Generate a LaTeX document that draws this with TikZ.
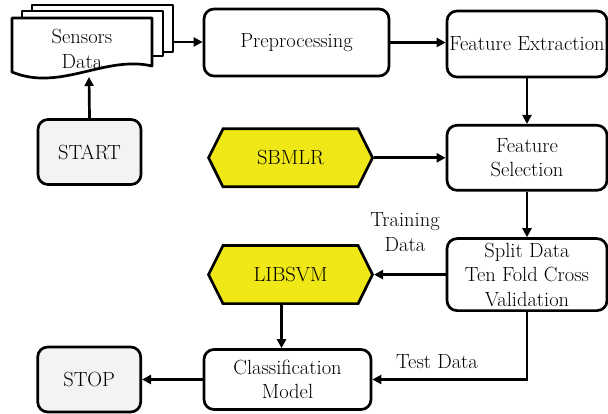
\documentclass[tikz,border=0pt]{standalone}
\usepackage{fontspec}
\usepackage{tikz}
\usetikzlibrary{positioning, shapes.geometric, shapes.symbols, arrows.meta}
\definecolor{hexyellow}{RGB}{240,232,22}
\definecolor{termgray}{RGB}{242,243,245}
\tikzstyle{arrow} = [line width=2.7pt,-{Triangle[length=9pt,width=9pt]}]
\tikzstyle{page} = [draw=black, line width=2.7pt, fill=white, line join=round]

\begin{document}
\begin{tikzpicture}[x=1pt, y=1pt,
font=\fontsize{20.5}{24.5}\selectfont,
boxnode/.style={rectangle, draw=black, line width=2.7pt, rounded corners=10pt, align=center, inner sep=0pt},
termnode/.style={boxnode, fill=termgray, minimum width=103pt, minimum height=65pt},
hexnode/.style={signal, signal to=west and east, signal pointer angle=127, draw=black, line width=2.7pt, fill=hexyellow, minimum width=164pt, minimum height=58pt}
]
\useasboundingbox (0,0) rectangle (608,-414);
% sensor pages
\draw[page] (32,-5) rectangle (173,-52);
\draw[page] (22,-11) rectangle (163,-56);
\draw[page] (12,-18) -- (152,-18) -- (152,-66) .. controls (105,-55) and (60,-92) .. (12,-72) -- cycle;
\node[align=center] (sensors) at (82,-49) {Sensors\\Data};
\coordinate (docout) at (173,-42);
\coordinate (docin) at (89,-77);

\node[boxnode, minimum width=185pt, minimum height=67pt] (prep) at (296.5,-42.5) {Preprocessing};
\node[boxnode, minimum width=160pt, minimum height=66pt] (featext) at (527,-44) {Feature Extraction};
\node[boxnode, minimum width=160pt, minimum height=65pt] (featsel) [below=45.6pt of featext] {Feature\\Selection};
\node[boxnode, minimum width=160pt, minimum height=72pt] (split) [below=45.6pt of featsel] {Split Data\\Ten Fold Cross\\Validation};
\node[termnode] (start) at (89.5,-152) {START};
\node[hexnode] (sbmlr) [left=71.6pt of featsel] {SBMLR};
\node[hexnode] (libsvm) [left=71.6pt of split] {LIBSVM};
\node[boxnode, minimum width=167pt, minimum height=60pt] (classif) at (287.5,-379.5) {Classification\\Model};
\node[termnode] (stop) [left=60.6pt of classif] {STOP};
\node[align=center] (train) at (405,-232) {Training\\Data};
\node (test) at (437,-362) {Test Data};
\coordinate (svmout) at ([xshift=-9pt]libsvm.south);

\draw[arrow] (docout) -- (docout -| prep.west);
\draw[arrow] (start.north) -- (docin);
\draw[arrow] (prep.east) -- (prep.east -| featext.west);
\draw[arrow] (featext.south) -- (featsel.north);
\draw[arrow] (sbmlr.east) -- (featsel.west);
\draw[arrow] (featsel.south) -- (split.north);
\draw[arrow] (split.west) -- (libsvm.east);
\draw[arrow] (svmout) -- (svmout |- classif.north);
\draw[arrow] (split.south) |- (classif.east);
\draw[arrow] (classif.west) -- (stop.east);
\end{tikzpicture}
\end{document}
